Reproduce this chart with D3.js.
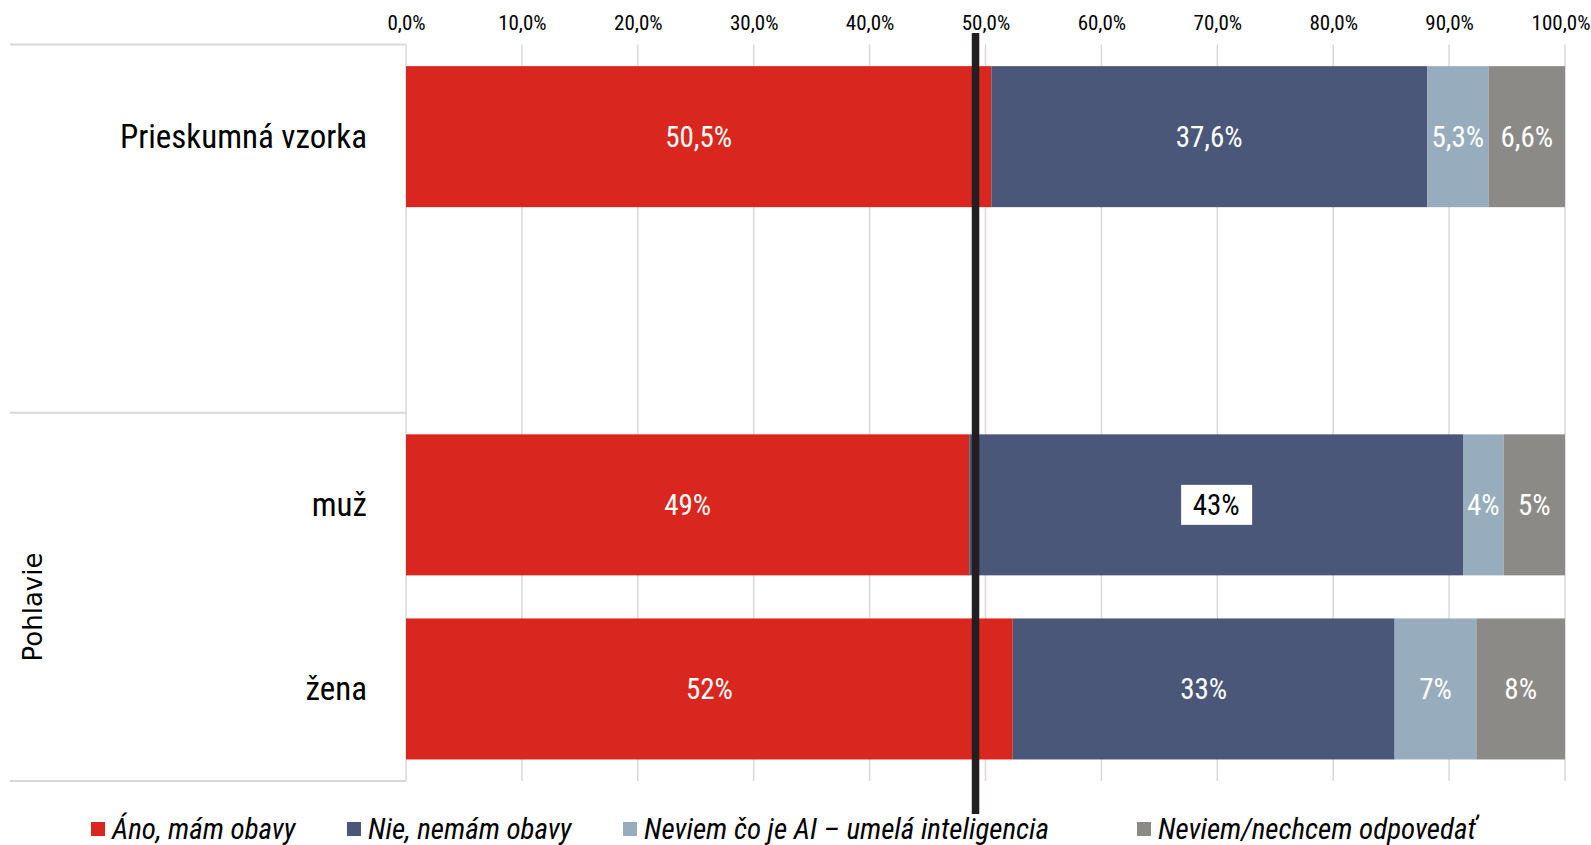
<!DOCTYPE html>
<html>
<head>
<meta charset="utf-8">
<script src="https://cdn.jsdelivr.net/npm/d3@7"></script>
<style>
  body { margin: 0; background: #fff; }
  svg text { font-family: "Liberation Sans Narrow", "Arial Narrow", "Roboto Condensed", "Open Sans", sans-serif; }
</style>
</head>
<body>
<svg id="chart"></svg>
<script>
// data
const categories = ["Prieskumná vzorka", "", "muž", "žena"];
const seriesNames = ["Áno, mám obavy", "Nie, nemám obavy", "Neviem čo je AI – umelá inteligencia", "Neviem/nechcem odpovedať"];
const colors = ["#d9261e", "#4a5779", "#97adbe", "#8c8a87"];
const vzorka = [50.5, 37.6, 5.3, 6.6];
const muz = [48.6, 42.6, 3.5, 5.3];
const zena = [52.35, 32.95, 7.05, 7.65];
const vzorkaLabels = ["50,5%", "37,6%", "5,3%", "6,6%"];
const muzLabels = ["49%", "43%", "4%", "5%"];
const zenaLabels = ["52%", "33%", "7%", "8%"];
const xTicks = [0, 10, 20, 30, 40, 50, 60, 70, 80, 90, 100];
const groupLabel = "Pohlavie";
const markerValue = 49.14;

const width = 1591, height = 845;
const svg = d3.select("#chart").attr("width", width).attr("height", height);

const rows = [
  {cat: 0, values: vzorka, labels: vzorkaLabels},
  {cat: 2, values: muz, labels: muzLabels},
  {cat: 3, values: zena, labels: zenaLabels}
];

const x = d3.scaleLinear().domain([0, 100]).range([406, 1565]);
const y = d3.scaleBand()
  .domain(d3.range(categories.length))
  .range([44.6, 781])
  .paddingInner(0.234)
  .paddingOuter(0.117);

const fmt = d3.formatLocale({decimal: ",", thousands: " ", grouping: [3], currency: ["", ""]}).format(".1f");

// mriežka
svg.append("g")
  .selectAll("line")
  .data(xTicks)
  .join("line")
  .attr("x1", d => x(d)).attr("x2", d => x(d))
  .attr("y1", 44.6).attr("y2", 781)
  .attr("stroke", "#d9d9d9").attr("stroke-width", 1.5);

// oddeľovače kategórií vľavo
const seps = [0, 2, 4];
svg.append("g")
  .selectAll("line")
  .data(seps)
  .join("line")
  .attr("x1", 10).attr("x2", x(0))
  .attr("y1", d => 44.6 + d * y.step()).attr("y2", d => 44.6 + d * y.step())
  .attr("stroke", "#d9d9d9").attr("stroke-width", 2);

// horná os
const axis = svg.append("g")
  .attr("transform", "translate(0,44.6)")
  .call(d3.axisTop(x).tickValues(xTicks).tickSize(0).tickPadding(15).tickFormat(d => fmt(d) + "%"));
axis.select(".domain").remove();
axis.selectAll("text").attr("font-size", 21).attr("fill", "#000");
// posledný popis nesmie pretiecť za okraj
axis.selectAll("text").filter(d => d === 100)
  .attr("text-anchor", "end")
  .attr("x", width - 1 - x(100));

// stĺpce
rows.forEach(row => {
  let acc = 0;
  const segs = row.values.map((v, i) => {
    const s = {i, x0: acc, x1: acc + v, label: row.labels[i]};
    acc += v;
    return s;
  });
  const g = svg.append("g");
  g.selectAll("rect")
    .data(segs)
    .join("rect")
    .attr("x", d => x(d.x0))
    .attr("y", y(row.cat))
    .attr("width", d => x(d.x1) - x(d.x0))
    .attr("height", y.bandwidth())
    .attr("fill", d => colors[d.i]);

  const cy = y(row.cat) + y.bandwidth() / 2;
  segs.forEach(d => {
    const cx = (x(d.x0) + x(d.x1)) / 2;
    const boxed = row.cat === 2 && d.i === 1;
    if (boxed) {
      g.append("rect")
        .attr("x", cx - 35).attr("y", cy - 20)
        .attr("width", 71).attr("height", 40)
        .attr("fill", "#fff");
    }
    g.append("text")
      .attr("x", cx).attr("y", cy)
      .attr("text-anchor", "middle")
      .attr("dominant-baseline", "central")
      .attr("font-size", 29)
      .attr("fill", boxed ? "#000" : "#fff")
      .text(d.label);
  });

  // popis kategórie
  svg.append("text")
    .attr("x", 367).attr("y", cy)
    .attr("text-anchor", "end")
    .attr("dominant-baseline", "central")
    .attr("font-size", 33)
    .attr("fill", "#000")
    .text(categories[row.cat]);
});

// skupina
svg.append("text")
  .attr("transform", "translate(33,607) rotate(-90)")
  .attr("text-anchor", "middle")
  .attr("dominant-baseline", "central")
  .attr("font-size", 26)
  .style("font-family", '"DejaVu Sans", "Open Sans", sans-serif')
  .attr("fill", "#000")
  .text(groupLabel);

// čiara 50 %
svg.append("line")
  .attr("x1", x(markerValue)).attr("x2", x(markerValue))
  .attr("y1", 33).attr("y2", 814)
  .attr("stroke", "#231f20").attr("stroke-width", 7.5);

// legenda
const legendX = [91, 347, 623, 1137];
const legend = svg.append("g").selectAll("g")
  .data(seriesNames)
  .join("g")
  .attr("transform", (d, i) => `translate(${legendX[i]},822)`);
legend.append("rect").attr("width", 14).attr("height", 14).attr("fill", (d, i) => colors[i]);
legend.append("text")
  .attr("x", 21).attr("y", 7)
  .attr("dominant-baseline", "central")
  .attr("font-size", 29)
  .attr("font-style", "italic")
  .attr("fill", "#000")
  .text(d => d);
</script>
</body>
</html>
